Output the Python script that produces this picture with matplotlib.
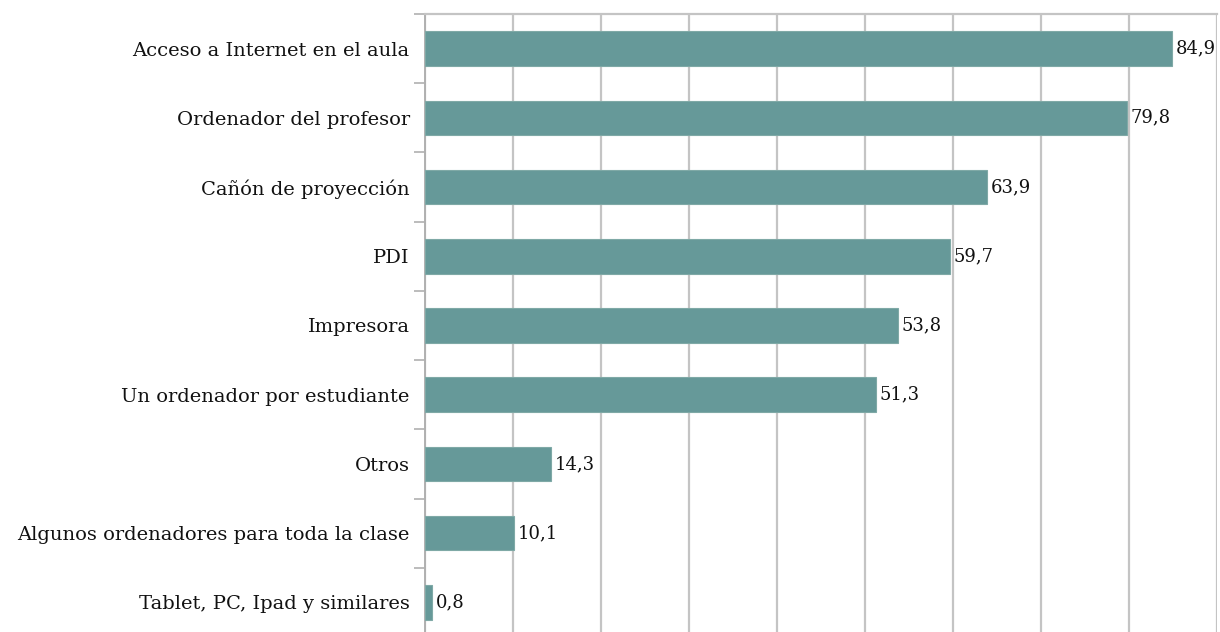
import numpy as np
import matplotlib.pyplot as plt

categorias = ['Acceso a Internet en el aula', 'Ordenador del profesor', 'Cañón de proyección',
              'PDI', 'Impresora', 'Un ordenador por estudiante', 'Otros',
              'Algunos ordenadores para toda la clase', 'Tablet, PC, Ipad y similares']
valores = [84.9, 79.8, 63.9, 59.7, 53.8, 51.3, 14.3, 10.1, 0.8]

plt.rcParams['font.family'] = ['DejaVu Serif']

fig = plt.figure(figsize=(12.2, 6.32), dpi=100)
ax = fig.add_axes([425 / 1220, -5 / 632, (1217 - 425) / 1220, (632 - 14 + 5) / 632])

y = np.arange(len(categorias))
ax.barh(y, valores, height=0.5, color='#669999', edgecolor='#7fa9a6', linewidth=0.8, zorder=3)
for yi, v in zip(y, valores):
    ax.text(v + 0.4, yi, f'{v:.1f}'.replace('.', ','), va='center', ha='left',
            fontsize=13, color='#111111', zorder=4)

ax.set_ylim(len(categorias) - 0.5, -0.5)
ax.set_xlim(0, 90)
ax.set_xticks(np.arange(0, 91, 10))
ax.tick_params(axis='x', length=0, labelbottom=False)
ax.grid(axis='x', color='#c4c4c4', linewidth=1.6, zorder=0)

ax.set_yticks(y)
ax.set_yticklabels(categorias, fontsize=14, color='#111111')
ax.tick_params(axis='y', which='major', length=0, pad=11)
ax.set_yticks(np.arange(-0.5, len(categorias), 1), minor=True)
ax.tick_params(axis='y', which='minor', length=8, width=1.2, color='#b0b0b0')

for s in ['right', 'bottom']:
    ax.spines[s].set_visible(False)
ax.spines['left'].set_color('#b0b0b0')
ax.spines['left'].set_linewidth(1.4)
ax.spines['top'].set_color('#c4c4c4')
ax.spines['top'].set_linewidth(1.6)

fig.savefig('out.png', dpi=100)
